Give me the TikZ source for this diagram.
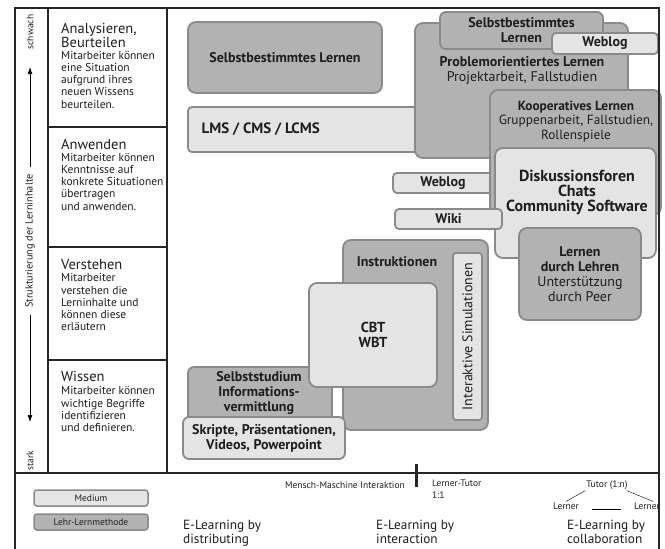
\documentclass[tikz,border=0pt]{standalone}
\usepackage{fontspec}
\setmainfont{PT Sans}
\usetikzlibrary{positioning,arrows.meta}

\definecolor{methodfill}{HTML}{B2B2B2}
\definecolor{mediumfill}{HTML}{E4E4E4}
\definecolor{boxline}{HTML}{8A8A8A}
\definecolor{ink}{HTML}{1E1E1E}

\tikzset{
  frame/.style={line width=2.6pt, black!85},
  methode/.style={draw=boxline, fill=methodfill, line width=1.8pt, rounded corners=8pt, inner sep=0pt},
  medium/.style={draw=boxline, fill=mediumfill, line width=1.8pt, rounded corners=4pt, inner sep=0pt},
  titel/.style={font=\fontsize{14}{15}\selectfont\bfseries, text=ink, align=center},
  info/.style={font=\fontsize{14}{15}\selectfont, text=ink, align=center},
  stufe/.style={anchor=north west, align=left, text=ink, inner sep=0pt, font=\fontsize{14.5}{12.5}\selectfont},
  stufetext/.style={anchor=north west, align=left, text=ink, inner sep=0pt, font=\fontsize{11.5}{12.2}\selectfont},
  klein/.style={font=\fontsize{9.5}{11.5}\selectfont, text=ink, inner sep=1pt},
  elearn/.style={anchor=north west, align=left, text=ink, inner sep=0pt, font=\fontsize{13.3}{14}\selectfont},
  pfeil/.style={-{Latex[length=7pt,width=5pt]}, line width=0.8pt},
}

\begin{document}
\begin{tikzpicture}[x=1pt,y=-1pt]
\useasboundingbox[fill=white] (0,0) rectangle (665,549);

% Medien und Lehr-Lernmethoden
\node[medium, minimum width=242pt, minimum height=45pt] (lms) at (309,129.5) {};
\node[titel, font=\fontsize{15}{15}\selectfont\bfseries, anchor=west] (lmstext) at ([xshift=11pt]lms.west) {LMS / CMS / LCMS};
\node[methode, titel, minimum width=194pt, minimum height=71pt] (selbstlinks) at (285,57.5) {Selbstbestimmtes Lernen};
\node[methode, minimum width=213pt, minimum height=135pt] (problem) at (521.5,90.5) {};
\node[info] (problemtext) at (522,71) {\textbf{Problemorientiertes Lernen}\\Projektarbeit, Fallstudien};
\node[methode, titel, rounded corners=6pt, minimum width=163pt, minimum height=37pt] (selbstoben) at (521.5,30.5) {Selbstbestimmtes\\Lernen};
\node[medium, titel, minimum width=106pt, minimum height=21pt] (weblogoben) at (605,43.5) {Weblog};
\node[medium, titel, minimum width=100pt, minimum height=20pt] (weblogmitte) at (443,183) {Weblog};
\node[methode, minimum width=171pt, minimum height=125pt] (koop) at (575.5,152.5) {};
\node[info, font=\fontsize{13.3}{14.5}\selectfont] (kooptext) at (576,121.5) {\textbf{Kooperatives Lernen}\\Gruppenarbeit, Fallstudien,\\Rollenspiele};
\node[medium, rounded corners=8pt, minimum width=161pt, minimum height=110pt] (disk) at (575.5,203) {};
\node[titel, font=\fontsize{16}{15}\selectfont\bfseries] (disktext) at (577,192) {Diskussionsforen\\Chats\\Community Software};
\node[medium, titel, minimum width=107pt, minimum height=20pt] (wiki) at (448.5,219) {Wiki};
\node[methode, info, minimum width=122pt, minimum height=92pt] (lehren) at (580,274) {\textbf{Lernen}\\\textbf{durch Lehren}\\Unterstützung\\durch Peer};
\node[methode, minimum width=145pt, minimum height=190pt] (instr) at (415.5,335) {};
\node[titel] (instrtext) at (397,262) {Instruktionen};
\node[medium, info, rotate=90, rounded corners=3pt, minimum width=167pt, minimum height=29pt] (simul) at (467.5,336.5) {Interaktive Simulationen};
\node[methode, rounded corners=6pt, minimum width=144pt, minimum height=58pt] (studium) at (260,396) {};
\node[titel] (studiumtext) at (259,393) {Selbststudium\\Informations-\\vermittlung};
\node[medium, titel, font=\fontsize{14.5}{15}\selectfont\bfseries, rounded corners=8pt, minimum width=128pt, minimum height=104pt] (cbt) at (373,335) {CBT\\WBT};
\node[medium, titel, rounded corners=6pt, minimum width=162pt, minimum height=42pt] (skripte) at (264,438) {Skripte, Präsentationen,\\Videos, Powerpoint};

% Rahmen
\draw[frame] (15,549) -- (15,8) -- (659,8) -- (659,549);
\draw[frame] (48,8) -- (48,473);
\draw[frame] (167,8) -- (167,473);
\draw[frame] (15,473) -- (659,473);
\foreach \y in {127,247,360}
  \draw[frame] (48,\y) -- (167,\y);
\draw[frame, line width=3pt] (416,464) -- (416,487);

% Lernziele
\node[stufe] (analysieren) at (61,23) {Analysieren,\\Beurteilen};
\node[stufetext] (analysierentext) at (61,51) {Mitarbeiter können\\eine Situation\\aufgrund ihres\\neuen Wissens\\beurteilen.};
\node[stufe] (anwenden) at (61,139) {Anwenden};
\node[stufetext] (anwendentext) at (61,153) {Mitarbeiter können\\Kenntnisse auf\\konkrete Situationen\\übertragen\\und anwenden.};
\node[stufe] (verstehen) at (61,259) {Verstehen};
\node[stufetext] (verstehentext) at (61,273.5) {Mitarbeiter\\verstehen die\\Lerninhalte und\\können diese\\erläutern};
\node[stufe] (wissen) at (61,371) {Wissen};
\node[stufetext] (wissentext) at (61,386.5) {Mitarbeiter können\\wichtige Begriffe\\identifizieren\\und definieren.};

% Strukturierung
\node[klein, rotate=90] (schwach) at (30,32) {schwach};
\node[klein, font=\fontsize{10.3}{12}\selectfont, rotate=90, inner xsep=7pt] (struktur) at (30,241) {Strukturierung der Lerninhalte};
\node[klein, rotate=90] (stark) at (30,461) {stark};
\coordinate (spitzeoben) at (30,67);
\coordinate (spitzeunten) at (30,422);
\draw[pfeil] (struktur.east) -- (spitzeoben);
\draw[pfeil] (struktur.west) -- (spitzeunten);

% Interaktion
\node[klein, anchor=east] (mensch) at (406,485) {Mensch-Maschine Interaktion};
\node[klein, anchor=north west, align=left] (lernertutor) at (431,479) {Lerner-Tutor\\1:1};
\node[klein] (tutor) at (607,485) {Tutor (1:n)};
\node[klein] (lernerl) at (566,506) {Lerner};
\node[klein, anchor=west] (lernerr) at (633,506) {Lerner};
\draw[thin] (tutor.south west) -- (lernerl.north);
\draw[thin] ([xshift=-2pt]tutor.south east) -- ([xshift=6pt]lernerr.north);
\draw[thin, shorten <=12pt, shorten >=12pt] ([yshift=-3pt]lernerl.east) -- ([yshift=-3pt]lernerr.west);

% Legende
\node[medium, klein, rounded corners=3pt, line width=1.5pt, minimum width=114pt, minimum height=16pt] (legmedium) at (91,498) {Medium};
\node[methode, klein, rounded corners=3pt, line width=1.5pt, minimum width=114pt, minimum height=16pt] (legmethode) at (91,522) {Lehr-Lernmethode};
\node[elearn] (distributing) at (183,520) {E-Learning by\\distributing};
\node[elearn] (interaction) at (376,520) {E-Learning by\\interaction};
\node[elearn] (collaboration) at (567,520) {E-Learning by\\collaboration};
\end{tikzpicture}
\end{document}
